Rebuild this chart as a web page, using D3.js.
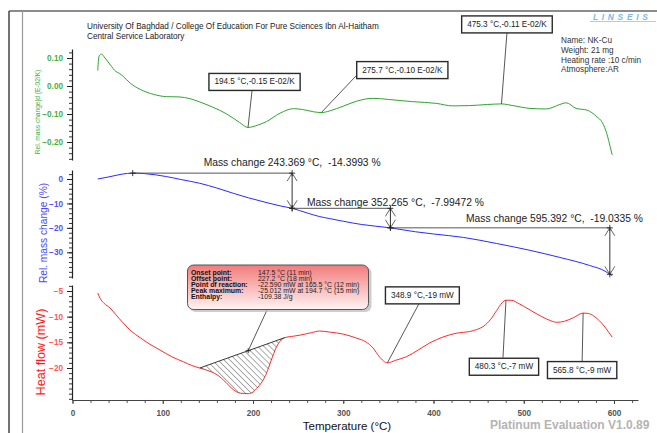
<!DOCTYPE html>
<html><head><meta charset="utf-8">
<script src="https://cdn.jsdelivr.net/npm/d3@7"></script>
<style>
body{margin:0;background:#fff;}
svg{display:block;font-family:"Liberation Sans",Arial,sans-serif;}
.pre{white-space:pre;}
</style></head><body>
<svg id="chart" width="657" height="433"></svg>
<script>
// ---- DTG curve: temperature (°C) vs. rel. mass change derivative (E-02/K)
const dtgTemp  = [28, 29, 30, 32, 36, 42, 48, 52, 56, 64, 75, 90, 104, 118, 130, 141, 155, 171, 185, 194.5, 205, 215, 230, 245, 255, 267, 275.7, 285, 300, 315, 333, 350, 377, 403, 421, 440, 460, 475.3, 488, 507, 525, 540, 547, 558, 570, 581, 587, 592, 596, 598];
const dtgValue = [0.055, 0.100, 0.110, 0.114, 0.100, 0.075, 0.052, 0.045, 0.035, 0.010, -0.012, -0.030, -0.038, -0.039, -0.045, -0.057, -0.075, -0.100, -0.130, -0.148, -0.140, -0.127, -0.097, -0.081, -0.084, -0.092, -0.095, -0.089, -0.072, -0.054, -0.044, -0.048, -0.056, -0.062, -0.071, -0.070, -0.066, -0.064, -0.070, -0.080, -0.082, -0.066, -0.060, -0.080, -0.086, -0.110, -0.130, -0.170, -0.220, -0.246];

// ---- TG curve: temperature (°C) vs. rel. mass change (%)
const tgTemp  = [28, 41.5, 55, 66.7, 80, 104, 120, 141, 160, 178.6, 195, 215.5, 230, 243.369, 260, 274, 285, 300, 320, 352.265, 380, 400, 433, 470, 507, 540, 573, 590, 595.392, 598];
const tgValue = [0, 0.95, 2.0, 2.4, 2.2, 1.0, -0.2, -1.75, -3.7, -5.9, -7.7, -9.7, -11.0, -12.0, -13.9, -15.4, -16.2, -17.3, -18.6, -20.0, -21.6, -22.5, -23.9, -26.4, -29.2, -32.1, -35.4, -37.7, -39.0, -39.5];

// ---- DSC curve: temperature (°C) vs. heat flow (mW)
const dscTemp  = [28, 30.5, 35, 41.6, 48, 56, 65, 75, 86, 97, 110, 123, 132, 141, 150, 160, 170, 178, 186, 194.7, 200, 204, 210, 215, 220, 226, 230, 235, 245, 252, 265, 274, 285, 300, 315, 325, 333, 340, 348.9, 358, 370, 383, 396, 410, 426, 440, 448, 456, 463, 470, 476, 480.3, 486, 495, 507, 520, 530, 537, 545, 555, 565.8, 572, 580, 588, 594, 598];
const dscValue = [-5.4, -6.4, -7.4, -8.3, -9.6, -11.2, -12.8, -14.1, -15.4, -16.5, -17.8, -18.8, -19.5, -20.0, -20.5, -21.3, -22.8, -24.2, -24.9, -25.0, -24.7, -24.0, -22.7, -21.0, -18.6, -15.9, -14.8, -14.1, -13.8, -13.6, -13.1, -12.8, -13.0, -13.4, -14.2, -14.9, -16.1, -17.8, -19.0, -18.5, -17.8, -16.5, -15.1, -14.0, -13.2, -12.9, -12.5, -11.8, -10.6, -8.8, -7.3, -6.8, -6.8, -7.5, -8.7, -10.0, -10.8, -11.1, -10.9, -10.2, -9.3, -9.4, -10.2, -11.6, -13.0, -14.0];

// ---- Axis ticks
const xTicks   = [0, 100, 200, 300, 400, 500, 600];
const dtgTicks = [0.10, 0.00, -0.10, -0.20];
const tgTicks  = [0, -10, -20, -30];
const dscTicks = [-5, -10, -15, -20];

// ---- Peak labels
const dtgPeakTemp  = [194.5, 275.7, 475.3];
const dtgPeakLabel = ["194.5 °C,-0.15 E-02/K", "275.7 °C,-0.10 E-02/K", "475.3 °C,-0.11 E-02/K"];
const dscPeakTemp  = [348.9, 480.3, 565.8];
const dscPeakLabel = ["348.9 °C,-19 mW", "480.3 °C,-7 mW", "565.8 °C,-9 mW"];

// ---- Mass change steps (TG)
const stepStartTemp = [66.7, 243.369, 352.265];
const stepEndTemp   = [243.369, 352.265, 595.392];
const stepChange    = [-14.3993, -7.99472, -19.0335];

// ---- DSC peak integration
const peakLimits     = [141, 235];
const peakMaxTemp    = 194.7;
const peakInfoLabels = ["Onset point:", "Offset point:", "Point of reaction:", "Peak maximum:", "Enthalpy:"];
const peakInfoValues = ["147.5 °C (11 min)", "227.2 °C (18 min)", "-22.590 mW at 165.5 °C (12 min)", "-25.012 mW at 194.7 °C (15 min)", "-109.38 J/g"];

// ---- Header / sample info
const headerLines = ["University Of Baghdad / College Of Education For Pure Sciences Ibn Al-Haitham", "Central Service Laboratory"];
const sampleInfo  = ["Name: NK-Cu", "Weight: 21 mg", "Heating rate :10 c/min", "Atmosphere:AR"];

const svg = d3.select("#chart");
const zip = (a, b) => a.map((t, i) => [t, b[i]]);
const interp = (ts, vs, t) => {
  for (let i = 1; i < ts.length; i++) {
    if (t <= ts[i]) { const f = (t - ts[i-1]) / (ts[i] - ts[i-1]); return vs[i-1] + f * (vs[i] - vs[i-1]); }
  }
  return vs[vs.length - 1];
};

const GREEN = "#2fa52f", BLUE = "#2a2aff", RED = "#ff2a2a";

// scales
const x = d3.scaleLinear().domain([0, 600]).range([72.5, 614]);
const AXIS_X = 72;
function panelScale(v0, y0, v1, y1, top, bottom) {
  const s = d3.scaleLinear().domain([v0, v1]).range([y0, y1]);
  return d3.scaleLinear().domain([s.invert(top), s.invert(bottom)]).range([top, bottom]);
}
const yDtg = panelScale(0.10, 58, -0.20, 142, 49, 160);
const yTg  = panelScale(0, 179, -30, 252.3, 170, 278);
const yDsc = panelScale(-5, 291, -20, 368, 285, 400);

// frame
svg.append("line").attr("x1", 9).attr("x2", 657).attr("y1", 11).attr("y2", 11).attr("stroke", "#666").attr("stroke-width", 1.5);
svg.append("line").attr("x1", 9).attr("x2", 9).attr("y1", 11).attr("y2", 433).attr("stroke", "#444").attr("stroke-width", 1.5);
svg.append("line").attr("x1", 22.5).attr("x2", 22.5).attr("y1", 11).attr("y2", 433).attr("stroke", "#9a9a9a").attr("stroke-width", 1.2);

// header
svg.selectAll("text.hdr").data(headerLines).join("text").attr("class", "hdr")
  .attr("x", 87).attr("y", (d, i) => 29 + i * 9.5).attr("font-size", 8.2).attr("fill", "#222").text(d => d);
svg.selectAll("text.info").data(sampleInfo).join("text").attr("class", "info")
  .attr("x", 561).attr("y", (d, i) => 43 + i * 9.8).attr("font-size", 8.2).attr("fill", "#333").text(d => d);

// logo
svg.append("text").attr("x", 593).attr("y", 19.5).attr("font-size", 8.4).attr("font-style", "italic").attr("font-weight", "bold")
  .attr("letter-spacing", 3.7).attr("fill", "#7ab8ea").text("LINSEIS");
svg.append("line").attr("x1", 590).attr("x2", 656).attr("y1", 21.5).attr("y2", 21.5).attr("stroke", "#8fc3ee").attr("stroke-width", 0.8);

// y axes (three stacked segments)
function yAxis(scale, ticks, step, fmt, color) {
  const [a, b] = scale.domain();
  const minor = d3.range(Math.ceil(Math.min(a, b) / step) * step, Math.max(a, b), step);
  const gm = svg.append("g").attr("transform", `translate(${AXIS_X},0)`)
    .call(d3.axisLeft(scale).tickValues(minor).tickSize(3).tickFormat(""));
  gm.select(".domain").remove();
  gm.selectAll("line").attr("stroke", "#333");
  const g = svg.append("g").attr("transform", `translate(${AXIS_X},0)`)
    .call(d3.axisLeft(scale).tickValues(ticks).tickSize(5).tickSizeOuter(0).tickPadding(4).tickFormat(fmt));
  g.select(".domain").attr("stroke", "#222").attr("stroke-width", 1.2);
  g.selectAll("line").attr("stroke", "#222");
  g.selectAll("text").attr("fill", color).attr("font-size", 8.2).attr("font-weight", "bold")
    .attr("font-family", "Liberation Sans, Arial, sans-serif");
}
yAxis(yDtg, dtgTicks, 0.02, d3.format(".2f"), "#45b045");
yAxis(yTg, tgTicks, 2, d => d3.format("d")(d), "#5050ff");
yAxis(yDsc, dscTicks, 1, d => d3.format("d")(d), "#ff5a5a");

// y axis titles
const yTitle = (txt, cx, cy, size, color) => svg.append("text")
  .attr("transform", `translate(${cx},${cy}) rotate(-90)`).attr("text-anchor", "middle")
  .attr("dominant-baseline", "central").attr("font-size", size).attr("fill", color).text(txt);
yTitle("Rel. mass change|d (E-02/K)", 37.5, 112, 6.6, "#3faa3f");
yTitle("Rel. mass change (%)", 43, 233, 10.2, "#4848ff");
yTitle("Heat flow (mW)", 41, 352, 12.6, "#ff1a1a");

// x axis
const xFull = x.copy().domain([0, x.invert(638)]).range([72.5, 638]);
const gxm = svg.append("g").attr("transform", "translate(0,400)")
  .call(d3.axisBottom(xFull).tickValues(d3.range(0, 621, 20)).tickSize(3).tickFormat(""));
gxm.select(".domain").remove();
gxm.selectAll("line").attr("stroke", "#555");
const gx = svg.append("g").attr("transform", "translate(0,400)")
  .call(d3.axisBottom(xFull).tickValues(xTicks).tickSize(4).tickSizeOuter(0).tickPadding(6).tickFormat(d3.format("d")));
gx.select(".domain").attr("stroke", "#444").attr("stroke-width", 1.1);
gx.selectAll("line").attr("stroke", "#444");
gx.selectAll("text").attr("fill", "#555").attr("font-size", 8.2).attr("font-weight", "bold");
svg.append("text").attr("x", 347).attr("y", 429.5).attr("text-anchor", "middle").attr("font-size", 11.5)
  .attr("fill", "#111").text("Temperature (°C)");

// curves
const lineOf = (ys) => d3.line().x(d => x(d[0])).y(d => ys(d[1])).curve(d3.curveMonotoneX);
svg.append("path").datum(zip(dtgTemp, dtgValue)).attr("d", lineOf(yDtg)).attr("fill", "none").attr("stroke", GREEN).attr("stroke-width", 1);
svg.append("path").datum(zip(tgTemp, tgValue)).attr("d", lineOf(yTg)).attr("fill", "none").attr("stroke", BLUE).attr("stroke-width", 1);
svg.append("path").datum(zip(dscTemp, dscValue)).attr("d", lineOf(yDsc)).attr("fill", "none").attr("stroke", RED).attr("stroke-width", 1);

// hatched DSC peak area
const defs = svg.append("defs");
defs.append("pattern").attr("id", "hatch").attr("patternUnits", "userSpaceOnUse")
  .attr("width", 4.2).attr("height", 4.2).attr("patternTransform", "rotate(-45)")
  .append("line").attr("x1", 0).attr("x2", 0).attr("y1", 0).attr("y2", 4.2).attr("stroke", "#333").attr("stroke-width", 0.8);
const [pa, pb] = peakLimits;
const va = interp(dscTemp, dscValue, pa), vb = interp(dscTemp, dscValue, pb);
const base = t => va + (t - pa) / (pb - pa) * (vb - va);
const peakPts = zip(dscTemp, dscValue).filter(d => d[0] >= pa && d[0] <= pb);
svg.append("path").datum(peakPts)
  .attr("d", d3.area().x(d => x(d[0])).y0(d => yDsc(base(d[0]))).y1(d => yDsc(d[1])).curve(d3.curveMonotoneX))
  .attr("fill", "url(#hatch)").attr("stroke", "none");
svg.append("line").attr("x1", x(pa)).attr("y1", yDsc(va)).attr("x2", x(pb)).attr("y2", yDsc(vb)).attr("stroke", "#222").attr("stroke-width", 0.9);

function cross(px, py, r = 3) {
  svg.append("path").attr("d", `M${px - r},${py}H${px + r}M${px},${py - r}V${py + r}`).attr("stroke", "#222").attr("stroke-width", 0.9);
}

// mass change steps
const textDy = [-7, -2, -6];
const textDx = [0, 5, 0];
let level = interp(tgTemp, tgValue, stepStartTemp[0]);
stepChange.forEach((c, i) => {
  const upper = level, lower = level + c;
  const xa = x(stepStartTemp[i]), xb = x(stepEndTemp[i]);
  const yu = yTg(upper), yl = yTg(lower);
  svg.append("line").attr("x1", xa).attr("x2", xb).attr("y1", yu).attr("y2", yu).attr("stroke", "#555").attr("stroke-width", 1);
  svg.append("line").attr("x1", xb).attr("x2", xb).attr("y1", yu).attr("y2", yl).attr("stroke", "#333").attr("stroke-width", 1);
  svg.append("path").attr("d", `M${xb - 5},${yu + 8}L${xb},${yu}L${xb + 5},${yu + 8}M${xb - 5},${yl - 8}L${xb},${yl}L${xb + 5},${yl - 8}`)
    .attr("fill", "none").attr("stroke", "#555").attr("stroke-width", 0.9);
  cross(xa, yu); cross(xb, yu); cross(xb, yl);
  const t = svg.append("text").attr("class", "pre").attr("font-size", 10.3).attr("fill", "#222")
    .attr("y", yu + textDy[i]).text(`Mass change ${stepEndTemp[i]} °C,  ${c} %`);
  const w = t.node().getComputedTextLength();
  t.attr("x", Math.min(xb - w / 2 + textDx[i], 643 - w));
  level = lower;
});

// peak label boxes
function labelBox(px, py, txt, cx, cy, lx, ly) {
  svg.append("line").attr("x1", px).attr("y1", py).attr("x2", px + lx).attr("y2", py + ly).attr("stroke", "#444").attr("stroke-width", 0.9);
  const t = svg.append("text").attr("font-size", 8.2).attr("fill", "#222").attr("text-anchor", "middle")
    .attr("dominant-baseline", "central").attr("x", px + cx).attr("y", py + cy).text(txt);
  const w = t.node().getComputedTextLength() + 11, h = 17;
  svg.insert("rect", () => t.node()).attr("x", px + cx - w / 2).attr("y", py + cy - h / 2).attr("width", w).attr("height", h)
    .attr("fill", "#fff").attr("stroke", "#2a2a2a").attr("stroke-width", 1.4);
}
const dtgOffsets = [[6.5, -45.5, 4, -37], [81, -42.5, 35, -37], [5.5, -79.5, 5.5, -71]];
dtgPeakTemp.forEach((t, i) => {
  const o = dtgOffsets[i];
  labelBox(x(t), yDtg(interp(dtgTemp, dtgValue, t)), dtgPeakLabel[i], o[0], o[1], o[2], o[3]);
});
const dscOffsets = [[35, -67.5, 31.5, -59], [-2, 66.5, -3, 57.5], [-1, 57, -1, 49]];
dscPeakTemp.forEach((t, i) => {
  const o = dscOffsets[i];
  labelBox(x(t), yDsc(interp(dscTemp, dscValue, t)), dscPeakLabel[i], o[0], o[1], o[2], o[3]);
});

// DSC peak information box
const grad = defs.append("linearGradient").attr("id", "pink").attr("x1", 0).attr("x2", 0).attr("y1", 0).attr("y2", 1);
grad.append("stop").attr("offset", "0%").attr("stop-color", "#f27b7b");
grad.append("stop").attr("offset", "100%").attr("stop-color", "#fff4f4");
const bx = x(peakMaxTemp), by = yDsc(base(peakMaxTemp));
svg.append("line").attr("x1", bx).attr("y1", by).attr("x2", 267).attr("y2", 310).attr("stroke", "#444").attr("stroke-width", 0.9);
cross(bx, by, 2.5);
svg.append("rect").attr("x", 189.5).attr("y", 267).attr("width", 182).attr("height", 45).attr("rx", 6)
  .attr("fill", "#b8b8b8").attr("opacity", 0.7);
svg.append("rect").attr("x", 187.5).attr("y", 265).attr("width", 181).attr("height", 44.5).attr("rx", 6)
  .attr("fill", "url(#pink)").attr("stroke", "#555").attr("stroke-width", 1);
peakInfoLabels.forEach((l, i) => {
  const yy = 272 + i * 6.2;
  svg.append("text").attr("x", 191).attr("y", yy).attr("dominant-baseline", "central").attr("font-size", 6.9)
    .attr("font-weight", "bold").attr("fill", "#111").text(l);
  svg.append("text").attr("x", 258).attr("y", yy).attr("dominant-baseline", "central").attr("font-size", 6.9)
    .attr("fill", "#222").text(peakInfoValues[i]);
});

// footer
svg.append("text").attr("x", 490).attr("y", 429).attr("font-size", 12).attr("font-weight", "bold")
  .attr("fill", "#b4b4b4").text("Platinum Evaluation V1.0.89");
</script>
</body></html>
